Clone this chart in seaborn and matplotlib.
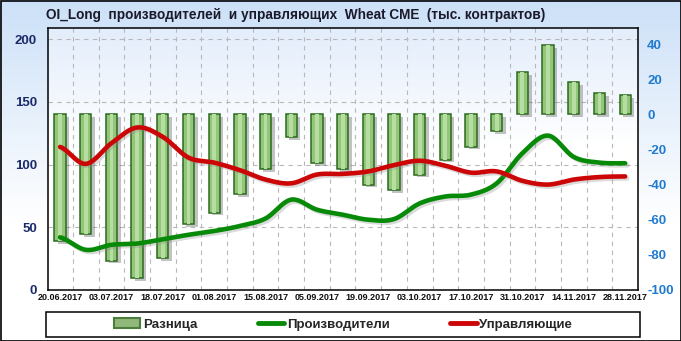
import numpy as np
import matplotlib
matplotlib.use("Agg")
import matplotlib.pyplot as plt
import matplotlib.patheffects as pe
from matplotlib.patches import Patch, Rectangle
from matplotlib.lines import Line2D
import seaborn as sns

# ---------------- data ----------------
date_labels = ["20.06.2017", "03.07.2017", "18.07.2017", "01.08.2017", "15.08.2017",
               "05.09.2017", "19.09.2017", "03.10.2017", "17.10.2017", "31.10.2017",
               "14.11.2017", "28.11.2017"]
# difference (right axis), producers and managers (left axis)
diff = [-72, -68.4, -83.3, -93.2, -81.8, -62.3, -55.9, -45.6, -31.4, -13.1, -28, -31.4,
        -40, -43, -34.3, -25.8, -18.4, -9.7, 23.9, 39.4, 18.2, 12.1, 10.8]
producers = [42, 32, 36, 37, 40.5, 44, 47, 51, 57, 72, 64, 60,
             56, 56.5, 69, 74.5, 76, 85, 109, 123, 106, 101.5, 101]
managers = [114, 100.5, 117, 129.5, 122, 105.5, 101.5, 95.5, 88, 85, 92, 92.5,
            94.5, 99.5, 103, 99, 93.5, 94.5, 87, 84, 88, 90, 90.5]
left_ticks = [0, 50, 100, 150, 200]
right_ticks = [-100, -80, -60, -40, -20, 0, 20, 40]

title = "OI_Long  производителей  и управляющих  Wheat CME  (тыс. контрактов)"
legend_labels = ["Разница", "Производители", "Управляющие"]

# ---------------- style ----------------
sns.set_style("white")
plt.rcParams['font.family'] = ['Liberation Sans', 'DejaVu Sans']

W, H = 681, 341
fig = plt.figure(figsize=(W / 100, H / 100), dpi=100)

# figure background gradient
bgfig = fig.add_axes([0, 0, 1, 1], zorder=-5)
grad = np.linspace(0, 1, 256)[:, None]
top_c = np.array([1.0, 1.0, 1.0])
bot_c = np.array([0.80, 0.88, 0.97])
w = np.clip((grad - 0.35) / 0.65, 0, 1)
img = top_c * (1 - w[..., None]) + bot_c * w[..., None]
bgfig.imshow(img[::-1], aspect='auto', extent=[0, 1, 0, 1])
bgfig.set_axis_off()

n = len(diff)
xpos = np.arange(n)
rect = [48 / W, 1 - 290 / H, (638 - 48) / W, (290 - 28) / H]
xlim = (-0.47, n - 0.5)
ylim_left = (0, (290 - 28) / 1.255)
ylim_right = (-100 + ylim_left[0] / 1.4, -100 + ylim_left[1] / 1.4)

# plot-area background + grid
bg = fig.add_axes(rect, zorder=0)
pg = np.linspace(0, 1, 256)[:, None]
pw = np.clip((pg - 0.55) / 0.45, 0, 1)
pimg = np.array([1, 1, 1]) * (1 - pw[..., None]) + np.array([0.89, 0.93, 0.985]) * pw[..., None]
bg.imshow(pimg[::-1], aspect='auto', extent=[xlim[0], xlim[1], ylim_left[0], ylim_left[1]], zorder=0)
bg.set_xlim(xlim)
bg.set_ylim(ylim_left)
bg.set_xticks(np.arange(0.5, n - 1, 1.0))
bg.set_yticks(left_ticks[1:])
bg.grid(True, color='#b8b8b8', linestyle=(0, (4, 4)), linewidth=0.8)
bg.tick_params(length=0, labelbottom=False, labelleft=False)
for s in bg.spines.values():
    s.set_visible(False)

# axes
ax = fig.add_axes(rect, zorder=2)
ax2 = ax.twinx()
ax2.set_zorder(1)
ax.patch.set_visible(False)
ax2.patch.set_visible(False)

# bars on right axis
sns.barplot(x=xpos, y=diff, ax=ax2, width=0.44, color='#93c67a', saturation=1,
            edgecolor='#2a6a1c', linewidth=1.1)
nb = len(ax2.patches)
for p in ax2.patches:
    p.set_path_effects([pe.SimplePatchShadow(offset=(2.5, -2), shadow_rgbFace='#555555', alpha=0.35),
                        pe.Normal()])
sns.barplot(x=xpos, y=diff, ax=ax2, width=0.15, color='#b6dea0', saturation=1, linewidth=0)

ax2.set_xlim(xlim)
ax2.set_ylim(ylim_right)
ax2.set_yticks(right_ticks)
ax2.set_yticklabels([str(t) for t in right_ticks])
ax2.tick_params(axis='y', length=0, pad=6.5, labelsize=9.5, labelcolor='#1f7ad0')
for lab in ax2.get_yticklabels():
    lab.set_fontweight('bold')
for s in ax2.spines.values():
    s.set_visible(False)


def smooth(vals, k=20):
    v = np.asarray(vals, dtype=float)
    P = np.concatenate([[v[0]], v, [v[-1]]])
    xs, ys = [], []
    t = np.linspace(0, 1, k, endpoint=False)
    for i in range(len(v) - 1):
        p0, p1, p2, p3 = P[i], P[i + 1], P[i + 2], P[i + 3]
        yy = 0.5 * (2 * p1 + (-p0 + p2) * t + (2 * p0 - 5 * p1 + 4 * p2 - p3) * t ** 2
                    + (-p0 + 3 * p1 - 3 * p2 + p3) * t ** 3)
        xs.append(i + t)
        ys.append(yy)
    xs.append([len(v) - 1])
    ys.append([v[-1]])
    return np.concatenate(xs), np.concatenate(ys)


shadow = [pe.SimpleLineShadow(offset=(1.5, -1.5), shadow_color='#888888', alpha=0.3), pe.Normal()]
gx, gy = smooth(producers)
rx, ry = smooth(managers)
sns.lineplot(x=gx, y=gy, ax=ax, color='#078a07', linewidth=3.3, sort=False, estimator=None)
sns.lineplot(x=rx, y=ry, ax=ax, color='#cc0606', linewidth=3.3, sort=False, estimator=None)
for ln in ax.get_lines():
    ln.set_path_effects(shadow)
    ln.set_solid_capstyle('round')

ax.set_xlim(xlim)
ax.set_ylim(ylim_left)
ax.set_yticks(left_ticks)
ax.set_yticklabels([str(t) for t in left_ticks])
ax.tick_params(axis='y', length=0, pad=8, labelsize=9.5, labelcolor='#1b2a6b')
for lab in ax.get_yticklabels():
    lab.set_fontweight('bold')
ax.set_xticks(xpos[::2])
ax.set_xticklabels(date_labels)
ax.tick_params(axis='x', length=0, pad=2, labelsize=6.5, labelcolor='#111111')
for lab in ax.get_xticklabels():
    lab.set_fontweight('bold')
ax.set_xlabel("")
ax.set_ylabel("")
ax2.set_xlabel("")
ax2.set_ylabel("")
for s in ax.spines.values():
    s.set_visible(True)
    s.set_color('black')
    s.set_linewidth(1.1)

# title
fig.text(46 / W, 1 - 15 / H, title, fontsize=9.8, fontweight='bold', color='#1a1a2a',
         ha='left', va='center')

# legend
handles = [Patch(facecolor='#8fb87a', edgecolor='#4b7d3c', linewidth=1.5),
           Line2D([], [], color='#078a07', linewidth=3.5),
           Line2D([], [], color='#cc0606', linewidth=3.5)]
leg = fig.legend(handles, legend_labels, loc='center', bbox_to_anchor=(343 / W, 1 - 324.5 / H),
                 ncol=3, frameon=False, prop={'weight': 'bold', 'size': 9.5},
                 handlelength=2.0, handletextpad=0.2, columnspacing=4.6)
fig.add_artist(Rectangle((46 / W, 1 - 337 / H), (640 - 46) / W, 25 / H, transform=fig.transFigure,
                         fill=False, edgecolor='black', linewidth=1.1))
fig.add_artist(Rectangle((0.5 / W, 0.5 / H), (W - 1) / W, (H - 1) / H, transform=fig.transFigure,
                         fill=False, edgecolor='black', linewidth=1.2))

fig.savefig("out.png", dpi=100)
